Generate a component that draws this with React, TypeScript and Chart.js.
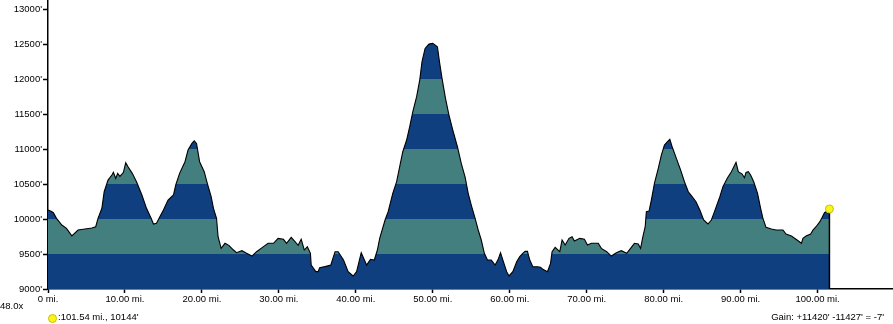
import React, { useEffect, useRef } from "react";
import { Chart, registerables } from "chart.js";

Chart.register(...registerables);

// Distance along route (miles)
const miles: number[] = [
  0.0, 0.4, 0.7, 1.1, 1.8, 2.4, 3.1, 3.9, 4.8, 5.7, 6.2, 6.5, 7.0, 7.3, 7.8, 8.3, 8.5, 8.8, 9.05, 9.35,
  9.8, 10.1, 10.4, 10.95, 11.5, 12.2, 12.8, 13.4, 13.7, 14.1, 14.5, 15.0, 15.6, 16.3, 16.6, 17.1, 17.8, 18.2, 18.7, 19.0,
  19.3, 19.7, 20.3, 20.7, 21.2, 21.5, 21.9, 22.1, 22.5, 23.0, 23.5, 24.1, 24.5, 25.2, 25.8, 26.5, 27.1, 28.0, 28.6, 29.3,
  29.9, 30.6, 31.0, 31.6, 32.1, 32.5, 32.9, 33.3, 33.7, 34.1, 34.2, 34.8, 35.1, 35.3, 36.0, 36.75, 37.3, 37.7, 38.4, 39.0,
  39.65, 40.1, 40.7, 41.4, 41.9, 42.4, 42.8, 43.1, 43.8, 44.2, 44.8, 45.3, 45.7, 46.1, 46.6, 47.0, 47.4, 47.9, 48.3, 48.6,
  49.0, 49.5, 50.0, 50.6, 50.9, 51.2, 51.65, 52.1, 52.6, 53.2, 53.7, 54.2, 54.6, 55.0, 55.5, 55.9, 56.3, 56.7, 57.1, 57.6,
  58.1, 58.5, 58.8, 59.1, 59.6, 59.9, 60.4, 60.9, 61.3, 61.7, 62.0, 62.3, 62.6, 63.0, 63.6, 64.0, 64.3, 64.9, 65.3, 65.5,
  65.9, 66.5, 66.8, 67.2, 67.7, 68.1, 68.4, 69.1, 69.7, 70.1, 70.6, 71.5, 71.9, 72.6, 73.2, 73.85, 74.5, 75.2, 75.7, 76.2,
  76.7, 77.0, 77.3, 77.6, 77.75, 78.1, 78.4, 78.8, 79.3, 79.7, 80.1, 80.5, 80.8, 81.1, 81.65, 82.2, 82.7, 83.2, 83.7, 84.2,
  84.7, 85.2, 85.75, 86.2, 86.6, 87.3, 87.7, 88.3, 88.8, 89.4, 89.7, 90.2, 90.5, 90.7, 91.0, 91.3, 91.7, 92.2, 92.6, 92.9,
  93.3, 94.0, 94.6, 95.5, 95.9, 96.6, 97.2, 97.9, 98.1, 98.5, 99.1, 99.4, 99.8, 100.3, 100.6, 100.9, 101.3, 101.54,
];

// Elevation (feet)
const elevations: number[] = [
  10130, 10110, 10090, 10010, 9914, 9867, 9760, 9843, 9857, 9871, 9890, 10010, 10153, 10390, 10557, 10629, 10667, 10581, 10653, 10610,
  10667, 10805, 10748, 10653, 10533, 10343, 10153, 10010, 9929, 9940, 10024, 10129, 10271, 10343, 10486, 10653, 10819, 10986, 11081, 11119,
  11081, 10819, 10676, 10510, 10319, 10153, 10010, 9747, 9581, 9653, 9624, 9557, 9519, 9547, 9510, 9471, 9533, 9605, 9653, 9653,
  9724, 9710, 9653, 9738, 9676, 9624, 9710, 9557, 9605, 9510, 9343, 9248, 9248, 9305, 9320, 9343, 9533, 9533, 9414, 9248,
  9186, 9248, 9519, 9343, 9424, 9414, 9557, 9724, 9986, 10105, 10367, 10533, 10748, 10962, 11129, 11319, 11533, 11748, 11986, 12248,
  12438, 12500, 12510, 12462, 12224, 12010, 11724, 11486, 11271, 11033, 10795, 10600, 10367, 10200, 10010, 9843, 9700, 9510, 9414, 9414,
  9343, 9424, 9519, 9414, 9248, 9186, 9248, 9390, 9462, 9510, 9538, 9538, 9414, 9319, 9319, 9310, 9281, 9248, 9367, 9533,
  9595, 9533, 9700, 9629, 9724, 9748, 9686, 9724, 9710, 9629, 9653, 9653, 9581, 9533, 9471, 9519, 9548, 9510, 9581, 9653,
  9643, 9581, 9748, 9890, 10105, 10114, 10271, 10510, 10724, 10914, 11057, 11105, 11138, 11033, 10867, 10700, 10533, 10390, 10319, 10248,
  10129, 9986, 9929, 9986, 10105, 10319, 10462, 10590, 10676, 10810, 10676, 10643, 10590, 10667, 10676, 10629, 10533, 10367, 10153, 10010,
  9881, 9857, 9843, 9843, 9786, 9757, 9710, 9653, 9724, 9757, 9786, 9843, 9890, 9962, 10024, 10090, 10119, 10144,
];

const yTickValues: number[] = [9000, 9500, 10000, 10500, 11000, 11500, 12000, 12500, 13000];
const xTickValues: number[] = [0, 10, 20, 30, 40, 50, 60, 70, 80, 90, 100];
const bandEdges: number[] = [9000, 9500, 10000, 10500, 11000, 11500, 12000, 12500, 13000];
const bandColors: string[] = ["#0f3f7f", "#437f7e"];

const zoomLabel = "48.0x";
const cursorLabel = ":101.54 mi., 10144'";
const gainLabel = "Gain: +11420' -11427' = -7'";

const FONT = "'Liberation Sans', Arial, Helvetica, sans-serif";

export default function App() {
  const canvasRef = useRef<HTMLCanvasElement | null>(null);

  useEffect(() => {
    document.body.style.margin = "0";
    const canvas = canvasRef.current;
    if (!canvas) return;

    const profile = miles.map((m, i) => ({ x: m, y: elevations[i] }));
    const last = profile[profile.length - 1];

    const endLinePlugin = {
      id: "endLine",
      afterDatasetDraw(chart: any, args: any) {
        if (args.index !== 1) return;
        const meta = chart.getDatasetMeta(1);
        const pt = meta.data[meta.data.length - 1];
        if (!pt) return;
        const c = chart.ctx;
        c.save();
        c.strokeStyle = "#000";
        c.lineWidth = 1.5;
        c.beginPath();
        c.moveTo(pt.x, pt.y);
        c.lineTo(pt.x, chart.chartArea.bottom);
        c.stroke();
        c.restore();
      },
    };

    const chart = new Chart(canvas, {
      type: "line",
      data: {
        datasets: [
          {
            type: "scatter",
            data: [last],
            order: 0,
            pointRadius: 4,
            pointBackgroundColor: "#f8f41c",
            pointBorderColor: "#c9c200",
            pointBorderWidth: 1,
            showLine: false,
            clip: false,
          } as any,
          {
            data: profile,
            order: 1,
            borderColor: "#000",
            borderWidth: 1.1,
            pointRadius: 0,
            tension: 0,
            fill: "start",
            backgroundColor: (ctx: any) => {
              const ch = ctx.chart;
              const ys = ch.scales?.y;
              if (!ch.chartArea || !ys) return bandColors[0];
              const y0 = ys.getPixelForValue(bandEdges[0]);
              const y1 = ys.getPixelForValue(bandEdges[bandEdges.length - 1]);
              const g = ch.ctx.createLinearGradient(0, y0, 0, y1);
              const span = bandEdges[bandEdges.length - 1] - bandEdges[0];
              for (let i = 0; i < bandEdges.length - 1; i++) {
                const col = bandColors[i % 2];
                g.addColorStop((bandEdges[i] - bandEdges[0]) / span, col);
                g.addColorStop((bandEdges[i + 1] - bandEdges[0]) / span, col);
              }
              return g;
            },
          },
        ],
      },
      options: {
        animation: false,
        responsive: false,
        devicePixelRatio: 1,
        layout: { autoPadding: false, padding: 0 },
        plugins: {
          legend: { display: false },
          tooltip: { enabled: false },
          title: { display: false },
        },
        scales: {
          x: {
            type: "linear",
            min: 0,
            max: 109.8,
            afterFit: (s: any) => {
              s.height = 35;
              s.paddingLeft = 0;
              s.paddingRight = 0;
            },
            afterBuildTicks: (s: any) => {
              s.ticks = xTickValues.map((v) => ({ value: v }));
            },
            border: { display: true, color: "#000", width: 1.5 },
            grid: { drawOnChartArea: false, color: "#000", tickLength: 4, tickWidth: 1.5 },
            ticks: {
              autoSkip: false,
              maxRotation: 0,
              padding: 1,
              color: "#000",
              font: { family: FONT, size: 9.5 },
              callback: (v: any) => (Number(v) === 0 ? "0 mi." : Number(v).toFixed(2) + " mi."),
            },
          },
          y: {
            type: "linear",
            min: 9000,
            max: 13130,
            afterFit: (s: any) => {
              s.width = 48;
              s.paddingTop = 0;
              s.paddingBottom = 0;
            },
            afterBuildTicks: (s: any) => {
              s.ticks = yTickValues.map((v) => ({ value: v }));
            },
            border: { display: true, color: "#000", width: 1.5 },
            grid: { drawOnChartArea: false, color: "#000", tickLength: 5, tickWidth: 1.5 },
            ticks: {
              padding: 1,
              color: "#000",
              font: { family: FONT, size: 9.5 },
              callback: (v: any) => v + "'",
            },
          },
        },
      },
      plugins: [endLinePlugin],
    });

    return () => chart.destroy();
  }, []);

  const textStyle: React.CSSProperties = {
    position: "absolute",
    fontFamily: FONT,
    fontSize: "9.5px",
    color: "#000",
    lineHeight: "11px",
    whiteSpace: "nowrap",
  };

  return (
    <div style={{ position: "relative", width: 893, height: 324, background: "#fff", overflow: "hidden" }}>
      <canvas ref={canvasRef} width={893} height={324} style={{ width: 893, height: 324, display: "block" }} />
      <div style={{ ...textStyle, left: 0, top: 300 }}>{zoomLabel}</div>
      <div
        style={{
          position: "absolute",
          left: 48,
          top: 314,
          width: 7,
          height: 7,
          borderRadius: "50%",
          background: "#f8f41c",
          border: "1px solid #c9c200",
        }}
      />
      <div style={{ ...textStyle, left: 58, top: 311 }}>{cursorLabel}</div>
      <div style={{ ...textStyle, right: 9, top: 311 }}>{gainLabel}</div>
    </div>
  );
}
